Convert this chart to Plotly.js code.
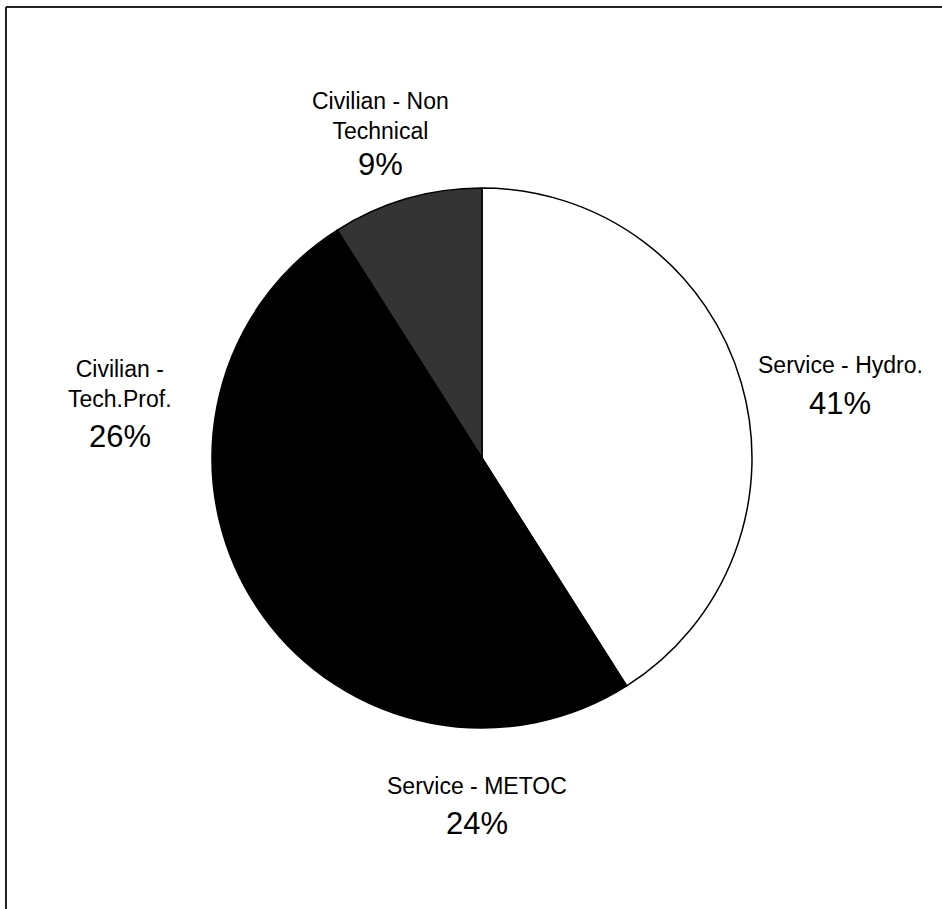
<!DOCTYPE html>
<html>
<head>
<meta charset="utf-8">
<script src="https://cdn.plot.ly/plotly-3.0.1.min.js"></script>
<style>html,body{margin:0;padding:0;background:#fff;}#chart{width:942px;height:909px;}</style>
</head>
<body>
<div id="chart"></div>
<script>
// Data
const categories = ["Service - Hydro.", "Service - METOC", "Civilian - Tech.Prof.", "Civilian - Non Technical"];
const displayLabels = ["Service - Hydro.", "Service - METOC", "Civilian -<br>Tech.Prof.", "Civilian - Non<br>Technical"];
const percents = [41, 24, 26, 9];
const sliceColors = ["#ffffff", "#000000", "#000000", "#343434"];

const W = 942, H = 909;
const px = x => x / W;
const py = y => 1 - y / H;

// label placement (pixel centres) for each category
const labelPos = [
  {x: 840, y: 365, py2: 403},
  {x: 477, y: 786, py2: 823},
  {x: 120, y: 384, py2: 436},
  {x: 380, y: 116, py2: 165}
];

const font = "Liberation Sans, Arial, Helvetica, sans-serif";
const annotations = [];
categories.forEach((c, i) => {
  const p = labelPos[i];
  annotations.push({
    xref: "paper", yref: "paper", x: px(p.x), y: py(p.y),
    xanchor: "center", yanchor: "middle", showarrow: false,
    text: displayLabels[i], align: "center",
    font: {family: font, size: 23, color: "#000"}
  });
  annotations.push({
    xref: "paper", yref: "paper", x: px(p.x), y: py(p.py2),
    xanchor: "center", yanchor: "middle", showarrow: false,
    text: percents[i] + "%",
    font: {family: font, size: 31, color: "#000"}
  });
});

const trace = {
  type: "pie",
  labels: categories,
  values: percents,
  sort: false,
  direction: "clockwise",
  rotation: 0,
  textinfo: "none",
  hoverinfo: "label+percent",
  marker: {colors: sliceColors, line: {color: "#000", width: 1.5}},
  domain: {x: [212 / W, 752 / W], y: [1 - 728 / H, 1 - 188 / H]},
  showlegend: false
};

const layout = {
  width: W, height: H,
  margin: {l: 0, r: 0, t: 0, b: 0},
  paper_bgcolor: "#fff",
  showlegend: false,
  annotations: annotations,
  shapes: [
    {type: "line", xref: "paper", yref: "paper", x0: px(6), x1: px(6), y0: py(7), y1: 0, line: {color: "#222", width: 2}},
    {type: "line", xref: "paper", yref: "paper", x0: px(6), x1: 1, y0: py(7), y1: py(7), line: {color: "#222", width: 2}}
  ]
};

Plotly.newPlot("chart", [trace], layout, {displayModeBar: false, staticPlot: true});
</script>
</body>
</html>
